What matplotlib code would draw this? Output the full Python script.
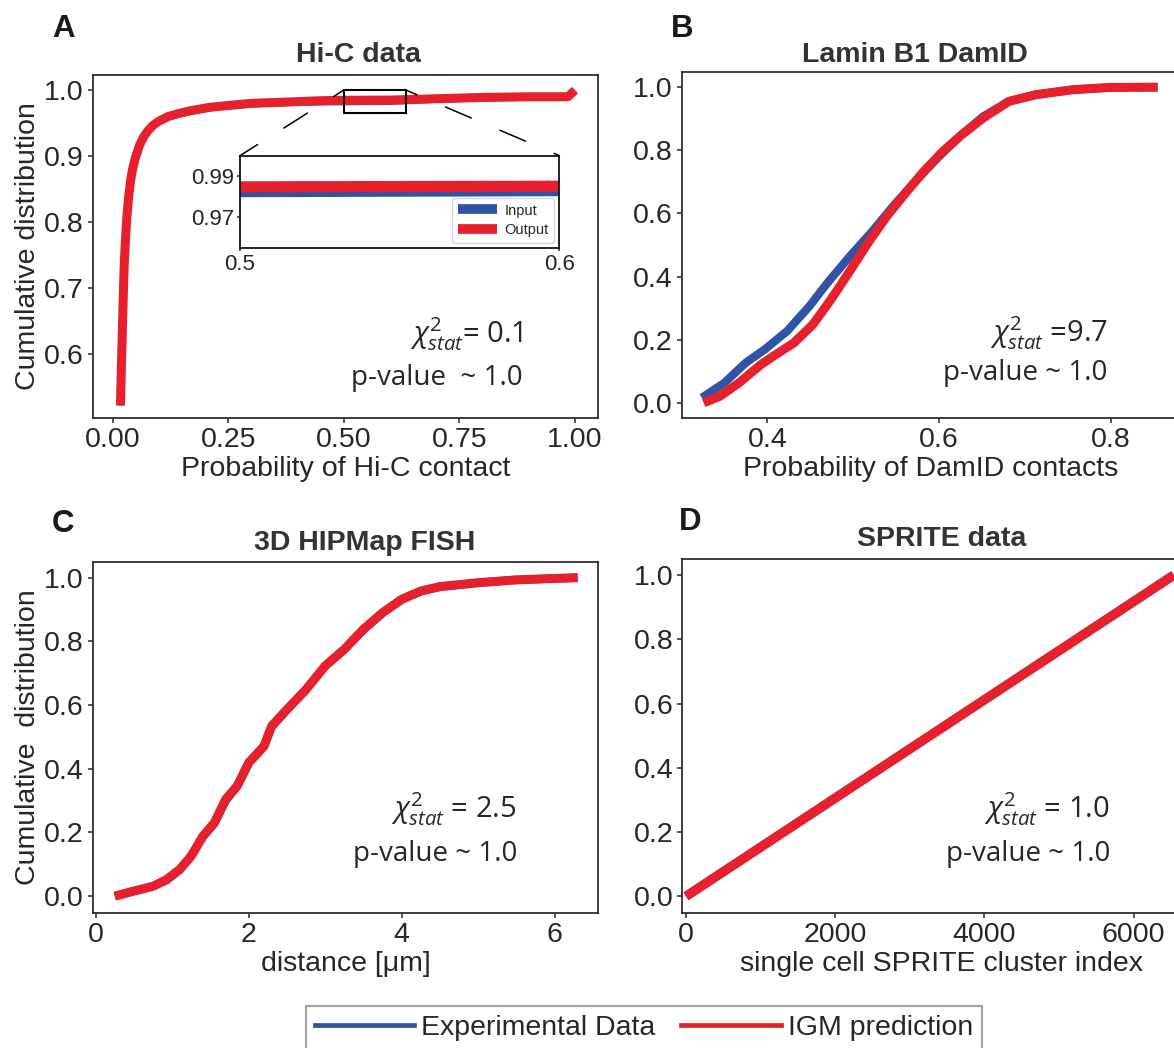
import matplotlib
matplotlib.use("Agg")
import matplotlib.pyplot as plt
from matplotlib.lines import Line2D
from matplotlib.patches import Rectangle, ConnectionPatch

# ---- values ----
# A: Hi-C contact probability CDF
hic_x = [0.017, 0.019, 0.021, 0.023, 0.025, 0.028, 0.031, 0.035, 0.039, 0.044,
         0.050, 0.058, 0.067, 0.077, 0.088, 0.100, 0.120, 0.145, 0.170, 0.210,
         0.253, 0.300, 0.377, 0.450, 0.500, 0.600, 0.700, 0.800, 0.900, 0.985, 1.000]
hic_igm = [0.522, 0.580, 0.631, 0.685, 0.732, 0.775, 0.808, 0.840, 0.863, 0.883,
           0.899, 0.916, 0.929, 0.939, 0.947, 0.953, 0.960, 0.965, 0.969, 0.974,
           0.977, 0.980, 0.982, 0.984, 0.9847, 0.9850, 0.987, 0.989, 0.990, 0.990, 1.000]
hic_exp = [0.522, 0.580, 0.631, 0.685, 0.732, 0.775, 0.808, 0.840, 0.863, 0.883,
           0.899, 0.915, 0.928, 0.938, 0.946, 0.952, 0.959, 0.964, 0.968, 0.973,
           0.976, 0.979, 0.981, 0.9820, 0.9823, 0.9828, 0.986, 0.988, 0.989, 0.990, 1.000]
hic_zoom_x = [0.5, 0.635]      # region marked in the main panel
hic_zoom_y = [0.965, 1.0]
inset_xlim = [0.5, 0.6]
inset_ylim = [0.9545, 1.0]

# B: Lamin B1 DamID CDF
damid_x_exp = [0.324, 0.350, 0.375, 0.397, 0.423, 0.449, 0.470, 0.496, 0.522, 0.548,
               0.574, 0.600, 0.626, 0.651, 0.681, 0.712, 0.755, 0.798, 0.854]
damid_exp = [0.016, 0.063, 0.127, 0.169, 0.227, 0.306, 0.380, 0.464, 0.543, 0.628,
             0.707, 0.781, 0.849, 0.907, 0.955, 0.976, 0.992, 0.999, 1.000]
damid_x_igm = [0.326, 0.345, 0.367, 0.393, 0.410, 0.431, 0.453, 0.474, 0.496, 0.517,
               0.539, 0.561, 0.582, 0.604, 0.626, 0.651, 0.681, 0.712, 0.755, 0.798, 0.854]
damid_igm = [0.000, 0.021, 0.063, 0.122, 0.153, 0.190, 0.248, 0.327, 0.417, 0.506,
             0.591, 0.665, 0.733, 0.796, 0.849, 0.902, 0.955, 0.976, 0.992, 0.999, 1.000]

# C: 3D HIPMap FISH distance CDF
fish_x = [0.25, 0.50, 0.75, 0.925, 1.10, 1.25, 1.40, 1.55, 1.70, 1.85, 2.00, 2.20,
          2.30, 2.50, 2.75, 3.00, 3.25, 3.50, 3.75, 4.00, 4.25, 4.50, 5.00, 5.50, 6.30]
fish_exp = [0.000, 0.016, 0.031, 0.050, 0.083, 0.128, 0.186, 0.228, 0.300, 0.345,
            0.417, 0.470, 0.532, 0.585, 0.648, 0.722, 0.774, 0.836, 0.889, 0.931,
            0.957, 0.971, 0.984, 0.993, 1.000]
fish_igm = [0.000, 0.016, 0.031, 0.052, 0.084, 0.126, 0.188, 0.230, 0.304, 0.346,
            0.419, 0.471, 0.534, 0.586, 0.649, 0.723, 0.775, 0.838, 0.890, 0.932,
            0.958, 0.972, 0.984, 0.993, 1.000]

# D: SPRITE cluster CDF
sprite_idx = [0, 6540]
sprite_exp = [0.0, 1.0]
sprite_igm = [0.0, 1.0]

chi_labels = [r"$\chi^2_{stat}$= 0.1", r"$\chi^2_{stat}$ =9.7",
              r"$\chi^2_{stat}$ = 2.5", r"$\chi^2_{stat}$ = 1.0"]
p_labels = ["p-value  ~ 1.0", "p-value ~ 1.0", "p-value ~ 1.0", "p-value ~ 1.0"]

BLUE = "#2f54a3"
RED = "#e6202d"
INK = "#262626"
FS = 20.5

plt.rcParams["font.family"] = ["Liberation Sans", "DejaVu Sans"]
plt.rcParams["mathtext.fontset"] = "custom"
plt.rcParams["mathtext.rm"] = "Open Sans"
plt.rcParams["mathtext.it"] = "Open Sans:italic"
plt.rcParams["text.color"] = INK
plt.rcParams["axes.edgecolor"] = INK
plt.rcParams["axes.labelcolor"] = INK
plt.rcParams["xtick.color"] = INK
plt.rcParams["ytick.color"] = INK
plt.rcParams["axes.linewidth"] = 1.25
for a in ("x", "y"):
    plt.rcParams[f"{a}tick.major.size"] = 3.5
    plt.rcParams[f"{a}tick.major.width"] = 1.1
    plt.rcParams[f"{a}tick.major.pad"] = 3.0
    plt.rcParams[f"{a}tick.labelsize"] = FS

W, H = 1174, 1048
fig = plt.figure(figsize=(W / 100, H / 100), dpi=100)


def px_axes(left, top, right, bottom):
    return fig.add_axes([left / W, 1 - bottom / H, (right - left) / W, (bottom - top) / H])


axA = px_axes(92.7, 75, 598, 418)
axB = px_axes(681.7, 71.7, 1180, 418.3)
axC = px_axes(93, 561.7, 598, 912.7)
axD = px_axes(682.3, 559, 1200.7, 913)

LW = 6.5
axA.plot(hic_x, hic_exp, color=BLUE, lw=LW - 1.5, solid_capstyle="butt")
axA.plot(hic_x, hic_igm, color=RED, lw=LW, solid_capstyle="butt")
axB.plot(damid_x_exp, damid_exp, color=BLUE, lw=LW - 0.5, solid_capstyle="butt")
axB.plot(damid_x_igm, damid_igm, color=RED, lw=LW, solid_capstyle="butt")
axC.plot(fish_x, fish_exp, color=BLUE, lw=LW - 0.5, solid_capstyle="butt")
axC.plot(fish_x, fish_igm, color=RED, lw=LW, solid_capstyle="butt")
axD.plot(sprite_idx, sprite_exp, color=BLUE, lw=LW, solid_capstyle="butt")
axD.plot(sprite_idx, sprite_igm, color=RED, lw=LW + 0.3, solid_capstyle="butt")

axA.set_xlim(-0.043, 1.05)
axA.set_ylim(0.503, 1.023)
axA.set_xticks([0, 0.25, 0.5, 0.75, 1.0])
axA.set_yticks([0.6, 0.7, 0.8, 0.9, 1.0])
axB.set_xlim(0.3005, 0.88)
axB.set_ylim(-0.049, 1.049)
axB.set_xticks([0.4, 0.6, 0.8])
axC.set_xlim(-0.035, 6.566)
axC.set_ylim(-0.052, 1.05)
axC.set_xticks([0, 2, 4, 6])
axD.set_xlim(-50, 6900)
axD.set_ylim(-0.052, 1.05)
axD.set_xticks([0, 2000, 4000, 6000])
for ax in (axB, axC, axD):
    ax.set_yticks([0.0, 0.2, 0.4, 0.6, 0.8, 1.0])

axA.set_xlabel("Probability of Hi-C contact", fontsize=FS, labelpad=2)
axB.set_xlabel("Probability of DamID contacts", fontsize=FS, labelpad=2)
axC.set_xlabel("distance [μm]", fontsize=FS, labelpad=2)
axD.set_xlabel("single cell SPRITE cluster index", fontsize=FS, labelpad=2)
axA.set_ylabel("Cumulative distribution", fontsize=FS, labelpad=2)
axC.set_ylabel("Cumulative  distribution", fontsize=FS, labelpad=2)

# stats annotations (data coords)
ann = [(axA, 0.888, 0.631, 0.563), (axB, 0.796, 0.221, 0.094),
       (axC, 5.507, 0.272, 0.131), (axD, 5684, 0.272, 0.131)]
for (ax, x, ychi, yp), chi, pv in zip(ann, chi_labels, p_labels):
    ax.text(x, ychi, chi, ha="right", va="center", fontsize=21, family="Open Sans")
    ax.text(x, yp, pv, ha="right", va="center", fontsize=20, family="Open Sans")

# titles and panel letters
for x, y, s in [(358, 61.7, "Hi-C data"), (915, 61.7, "Lamin B1 DamID"),
                (365, 550, "3D HIPMap FISH"), (942, 545.7, "SPRITE data")]:
    fig.text(x / W, 1 - y / H, s, ha="center", va="baseline", fontsize=20.5,
             fontweight="bold", color="#333333")
for x, y, s in [(52, 37, "A"), (671, 36.7, "B"), (52, 531.7, "C"), (679, 530, "D")]:
    fig.text(x / W, 1 - y / H, s, ha="left", va="baseline", fontsize=22.5,
             fontweight="bold", color="#1a1a1a")

# inset zoom of panel A
ins = axA.inset_axes([0.2915, 0.4948, 0.6323, 0.270])
ins.plot(hic_x, hic_exp, color=BLUE, lw=8, solid_capstyle="butt", label="Input")
ins.plot(hic_x, hic_igm, color=RED, lw=8, solid_capstyle="butt", label="Output")
ins.set_xlim(*inset_xlim)
ins.set_ylim(*inset_ylim)
ins.set_xticks(inset_xlim)
ins.set_xticklabels(["0.5", "0.6"])
ins.set_yticks([0.97, 0.99])
ins.set_yticklabels(["0.97", "0.99"])
ins.tick_params(labelsize=16, length=2, pad=2)
for s in ins.spines.values():
    s.set_linewidth(1.3)
    s.set_color("#111111")
ileg = ins.legend(loc="lower right", fontsize=10.5, handlelength=2.7, handletextpad=0.5,
                  labelspacing=0.4, borderaxespad=0.35, frameon=True, fancybox=True,
                  edgecolor="#cccccc")
for h in ileg.get_lines():
    h.set_linewidth(7)

axA.add_patch(Rectangle((hic_zoom_x[0], hic_zoom_y[0]), hic_zoom_x[1] - hic_zoom_x[0],
                        hic_zoom_y[1] - hic_zoom_y[0], fill=False, ec="black", lw=1.5,
                        zorder=5))
for xa, xb in [(hic_zoom_x[0], 0.0), (hic_zoom_x[1], 1.0)]:
    con = ConnectionPatch(xyA=(xa, hic_zoom_y[1]), coordsA=axA.transData,
                          xyB=(xb, 1.0), coordsB=ins.transAxes,
                          color="black", lw=1.1, linestyle=(10.5, (18.3, 20.3)))
    fig.add_artist(con)

# shared legend at the bottom
handles = [Line2D([], [], color=BLUE, lw=3.4), Line2D([], [], color=RED, lw=3.4)]
leg = fig.legend(handles, ["Experimental Data", "IGM prediction"], loc="center",
                 bbox_to_anchor=(644 / W, 1 - 1028 / H), ncol=2, fontsize=20.5,
                 handlelength=3.5, handletextpad=0.25, columnspacing=0.9,
                 frameon=True, fancybox=False, edgecolor="#8c8c8c", borderpad=0.3)
leg.get_frame().set_linewidth(1.5)

fig.savefig("out.png", dpi=100, facecolor="white")
